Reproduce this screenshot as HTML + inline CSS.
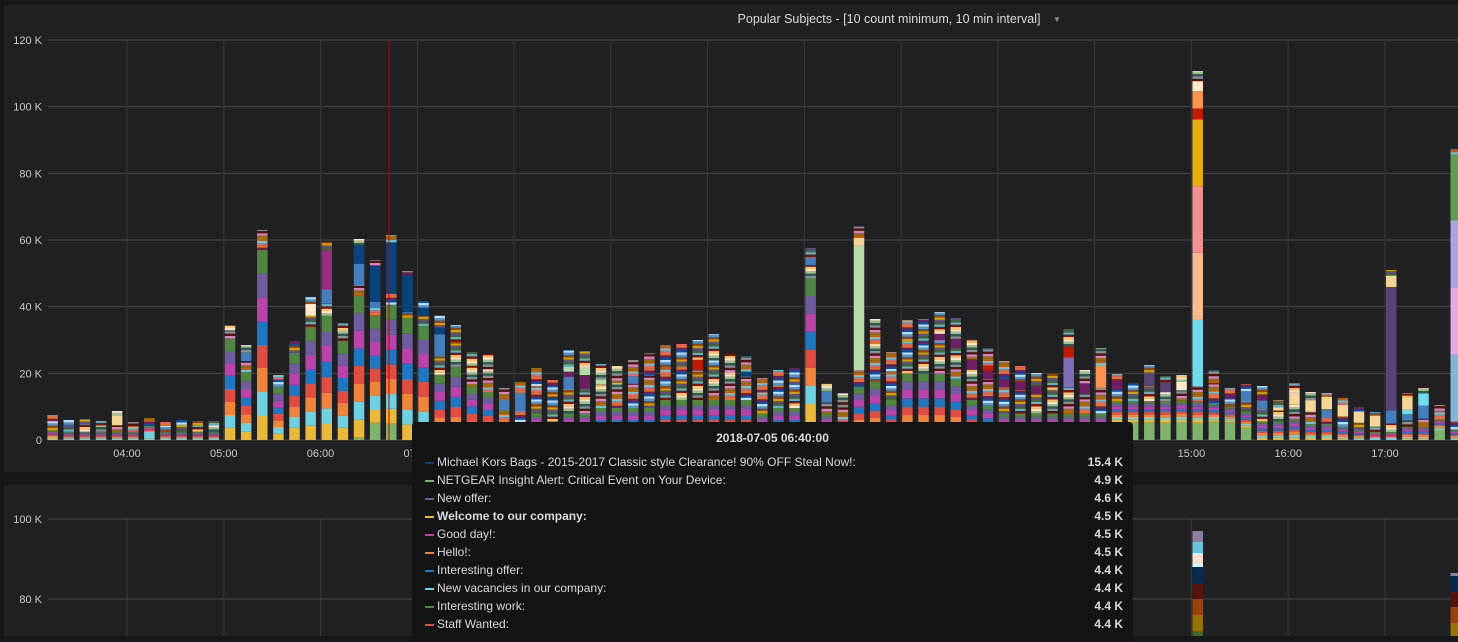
<!DOCTYPE html>
<html><head><meta charset="utf-8"><title>Popular Subjects</title>
<style>
html,body{margin:0;padding:0;background:#161719;width:1458px;height:636px;overflow:hidden;font-family:"Liberation Sans",sans-serif;}
#tooltip{position:absolute;left:412px;top:422px;width:721px;height:220px;background:#141414;border-radius:4px;color:#d8d9da;font-size:12px;}
#tooltip .tt-title{position:absolute;left:0;right:0;top:9px;text-align:center;font-weight:bold;}
.row{position:absolute;left:12px;right:10px;height:18px;}
.row .sw{position:absolute;left:1px;top:7px;width:9px;height:2px;}
.row .lb{position:absolute;left:13px;top:0;}
.row .vl{position:absolute;right:0;top:0;font-weight:bold;}
</style></head>
<body>
<svg id="chart" width="1458" height="636" style="position:absolute;left:0;top:0">
 <rect x="4" y="5" width="1460" height="467" fill="#212124"/>
 <rect x="4" y="485" width="1460" height="160" fill="#212124"/>
 <text x="889" y="23" fill="#d8d9da" font-size="12.5" text-anchor="middle">Popular Subjects - [10 count minimum, 10 min interval]</text>
 <text x="1057" y="22" fill="#8e8e8e" font-size="8" text-anchor="middle">▼</text>
 <g id="grid"></g><g id="bars"></g><g id="lower"></g><g id="axes"></g>
 <line x1="389" y1="40" x2="389" y2="440" stroke="#b00" stroke-width="1"/>
</svg>
<div id="tooltip">
 <div class="tt-title">2018-07-05 06:40:00</div>
</div>
<script>
const categories=["03:10","03:20","03:30","03:40","03:50","04:00","04:10","04:20","04:30","04:40","04:50","05:00","05:10","05:20","05:30","05:40","05:50","06:00","06:10","06:20","06:30","06:40","06:50","07:00","07:10","07:20","07:30","07:40","07:50","08:00","08:10","08:20","08:30","08:40","08:50","09:00","09:10","09:20","09:30","09:40","09:50","10:00","10:10","10:20","10:30","10:40","10:50","11:00","11:10","11:20","11:30","11:40","11:50","12:00","12:10","12:20","12:30","12:40","12:50","13:00","13:10","13:20","13:30","13:40","13:50","14:00","14:10","14:20","14:30","14:40","14:50","15:00","15:10","15:20","15:30","15:40","15:50","16:00","16:10","16:20","16:30","16:40","16:50","17:00","17:10","17:20","17:30","17:40"];
const totals=[7.5,6,6.3,5.7,8.7,5.4,6.6,5.4,6,5.7,5.7,34.5,28.5,63,19.5,29.7,43,59.4,35,60.3,54,61.5,50.7,41.7,37.5,34.5,26.4,25.8,15.6,17.4,21.6,18,27,26.7,22.8,22.2,24,26,28.5,28.8,30,31.8,25.8,25.2,18.6,21,21.6,57.6,17,14,64,36.3,26.4,36,36.3,38.4,36.6,30.3,27.6,23.7,22.2,20.1,19.8,33.3,21,27.6,19.8,17.1,22.5,19.2,19.5,110.7,21,15.6,16.8,16.2,12,17.1,14.4,14.1,12.6,9.9,8.4,51,14.1,15.6,10.5,87.3];
const netgear=[0,0,0,0,0,0,0,0,0,0,0,0,0,0,0,0,0,0,0,.8,5.2,4.9,0,0,0,0,0,0,0,0,0,0,0,0,0,0,0,0,0,0,0,0,0,0,0,0,0,5.4,0,0,0,0,0,0,0,0,0,0,0,0,0,0,0,0,0,0,5.3,5.3,5.3,5.2,5.4,5.2,5.5,5.3,3.7,0,0,0,0,0,0,0,0,0,0,0,3,0];
const welcome=[.5,.4,.4,.4,.4,.4,.4,.4,.4,.4,.4,3.8,2.5,7.2,2,3.8,4.3,4.8,3.8,5.4,4.1,4.5,4.7,4.5,2.2,2,1.8,1.8,.5,.5,1,.7,1,1,1.2,1.2,1.2,1.2,1.5,1.5,1.5,1.5,1.5,1.5,1,1.2,1.2,5.4,1,.7,2,2.2,1.5,2.5,2.5,2.5,2.3,1.5,1.3,1,1,1,1,1,1,1,.8,.8,.8,.8,.8,.8,.7,.6,.6,.7,.7,.8,.6,.6,.5,.4,.3,.3,.5,.5,.4,.4];
const vacancies=[.4,.3,.3,.3,.3,.3,2,.3,.3,.3,.3,3.7,2.7,7.2,1.9,3.2,4.2,4.7,3.5,5.3,4,4.4,4.5,4,2.2,2,1.8,1.8,.5,.5,1,.7,1,1,1.2,1.2,1.2,1.2,1.5,1.5,1.5,1.5,1.5,1.5,1,1.2,1.2,5.4,1,.7,2,2.2,1.5,2.5,2.5,2.5,2.3,1.5,1.3,1,1,1,1,1,1,1,.8,.8,.8,.8,.8,.8,.7,.6,.6,.7,.7,.8,.6,.6,.5,.4,.3,.3,.5,.5,.4,.4];
const hello=[.4,.3,.3,.3,.3,.3,.3,.3,.3,.3,.3,4,2.5,7.2,2,3,4.3,4.7,3.8,5.3,4.2,4.5,4.6,4.5,2.4,3,2,1.8,.5,.5,1,.7,1,1,1.2,1.2,1.2,1.2,1.5,1.5,1.5,1.5,1.5,1.5,1,1.2,1.2,5.5,1,.7,2,2.2,1.5,2.5,2.5,2.5,2.3,1.5,1.3,1,1,1,1,1,1,1,.8,.8,.8,.8,.8,.8,.7,.6,.6,.7,.7,.8,.6,.6,.5,.4,.3,.3,.5,.5,.4,.4];
const staff=[.4,.3,.3,.3,.3,.3,.3,.3,.3,.3,.3,3.8,2.5,6.9,2,3.3,4.2,4.8,3.7,5.5,4,4.4,4.5,4.5,2.4,3,2.2,1.8,.5,.5,1,.7,1,1,1.2,1.2,1.2,1.2,1.5,1.5,1.5,1.5,1.5,1.5,1,1.2,1.2,5.4,1,.7,2,2.2,1.5,2.5,2.5,2.5,2.3,1.5,1.3,1,1,1,1,1,1,1,.8,.8,.8,.8,.8,.8,.7,.6,.6,.7,.7,.8,.6,.6,.5,.4,.3,.3,.5,.5,.4,.4];
const interesting=[.3,.3,.3,.3,.3,.3,.3,.3,.3,.3,.3,4,2.6,7,2,3.3,4.3,4.5,3.8,5.2,4,4.4,4.7,4.3,2.6,3,2.3,1.8,.5,.5,1,.7,1,1,1.2,1.2,1.2,1.2,1.5,1.5,1.5,1.5,1.5,1.5,1,1.2,1.2,5.4,1,.7,2,2.2,1.5,2.5,2.5,2.5,2.3,1.5,1.3,1,1,1,1,1,1,1,.8,.8,.8,.8,.8,.8,.7,.6,.6,.7,.7,.8,.6,.6,.5,.4,.3,.3,.5,.5,.4,.4];
const goodDay=[.3,.3,.3,.3,.3,.3,.3,.3,.3,.3,.3,3.7,2.5,7.2,1.9,3.2,4.2,4.7,3.7,5.3,4,4.5,4.5,4,2.6,3,2,1.8,.5,.5,1,.7,1,1,1.2,1.2,1.2,1.2,1.5,1.5,1.5,1.5,1.5,1.5,1,1.2,1.2,5.4,1,.7,2,2.2,1.5,2.5,2.5,2.5,2.3,1.5,1.3,1,1,1,1,1,1,1,.8,.8,.8,.8,.8,.8,.7,.6,.6,.7,.7,.8,.6,.6,.5,.4,.3,.3,.5,.5,.4,.4];
const newOffer=[.3,.3,.3,.3,.3,.3,.3,.3,.3,.3,.3,3.7,2.5,7.2,2.2,3.1,4.3,4.5,3.7,5.4,4,4.6,4.5,4.2,2.6,3,2,1.8,.5,.5,1,.7,1,1,1.2,1.2,1.2,1.2,1.5,1.5,1.5,1.5,1.5,1.5,1,1.2,1.2,5.3,1,.7,2,2.2,1.5,2.5,2.5,2.5,2.3,1.5,1.3,1,1,1,1,1,1,1,.8,.8,.8,.8,.8,.8,.7,.6,.6,.7,.7,.8,.6,.6,.5,.4,.3,.3,.5,.5,.4,.4];
const work=[.3,.3,.3,.3,.3,.3,.3,.3,.3,.3,.3,3.8,2.6,7.1,2,3.3,4.2,4.6,3.8,5.3,4,4.4,4.7,4.2,2.6,3,2,1.8,.5,.5,1,.7,1,1,1.2,1.2,1.2,1.2,1.5,1.5,1.5,1.5,1.5,1.5,1,1.2,1.2,5.3,1,.7,2,2.2,1.5,2.5,2.5,2.5,2.3,1.5,1.3,1,1,1,1,1,1,1,.8,.8,.8,.8,.8,.8,.7,.6,.6,.7,.7,.8,.6,.6,.5,.4,.3,.3,.5,.5,.4,.4];
// sparse feature series: bar index -> value (K)
const offerBlue={12:2.6,17:4.2,19:6.5,20:1.5,24:6.5,28:3.5,29:5.5,32:3.5,36:2.3,47:2.5,48:3.5,74:3,75:2.5,79:2.7,83:4,84:1.5,85:3.9};
const darkMagenta={32:1.5,33:4,55:2,56:2.7,57:3.2,58:2.5,59:2.5,60:2.5,61:2.5,64:3,66:2.5,73:1.5,75:1.8};
const plum={17:11.8};
const mint={32:1.5,33:2.2,34:1.5,50:37.4};
const violet={63:9};
const michael={19:5.5,20:11,21:15.4,22:11.3,23:2.5,24:2,43:1.5};
const dkPurple={68:3.5,69:3,83:37};
const sky={71:20,84:1.4,85:3.7};
const peach={71:20};
const rose={71:20};
const amber={71:20};
const crimson={40:3.2,58:1.5,63:3.3,71:3.3};
const tangerine={65:6.8,71:5.2};
const steel={87:20};
const orchid={87:20.2};
const lavender={87:20};
const fern={87:19.8};
const cream={4:3,50:2.3,76:1,77:3.4,78:3.5,79:3.6,80:3.4,81:3.4,82:3.3,83:3.4,84:3.5};
const ivory={16:3.5,70:2.5,71:3};
const yTicks=[0,20,40,60,80,100,120];
const yTickLabels=["0","20 K","40 K","60 K","80 K","100 K","120 K"];
const xTickLabels=["04:00","05:00","06:00","07:00","08:00","09:00","10:00","11:00","12:00","13:00","14:00","15:00","16:00","17:00"];
// lower panel (same time axis), only the two tallest bars reach the visible area
const lowerBarTimes=["15:00","17:40"];
const lowerGreen=[72,70];
const lowerOlive=[4,4];
const lowerOrange=[4,4];
const lowerDarkRed=[4,3.75];
const lowerNavy=[4,4];
const lowerPale=[0.75,0];
const lowerIvory=[2.75,0];
const lowerSky=[2.75,0];
const lowerTop=[2.75,0.75];
const lowerTicks=[80,100];
const lowerTickLabels=["80 K","100 K"];
const tooltipLabels=["Michael Kors Bags - 2015-2017 Classic style Clearance! 90% OFF Steal Now!:","NETGEAR Insight Alert: Critical Event on Your Device:","New offer:","Welcome to our company:","Good day!:","Hello!:","Interesting offer:","New vacancies in our company:","Interesting work:","Staff Wanted:"];
const tooltipValues=["15.4 K","4.9 K","4.6 K","4.5 K","4.5 K","4.5 K","4.4 K","4.4 K","4.4 K","4.4 K"];
const tooltipColors=["#0A437C","#7EB26D","#705DA0","#EAB839","#BA43A9","#EF843C","#1F78C1","#6ED0E0","#508642","#E24D42"];

const NS="http://www.w3.org/2000/svg";
function mk(tag,attrs,parent){const e=document.createElementNS(NS,tag);for(const k in attrs)e.setAttribute(k,attrs[k]);parent.appendChild(e);return e;}
function mins(t){const p=t.split(":");return +p[0]*60+ +p[1];}
function xOf(t){return 128+(mins(t)-240)*1.6128;}
function yOf(v){return 440-v*400/120;}
function yLow(v){return 919-v*4;}
const BW=10.5;
const grid=document.getElementById('grid'),bars=document.getElementById('bars'),axes=document.getElementById('axes'),lower=document.getElementById('lower');

yTicks.forEach((v,i)=>{
 const l=mk('line',{x1:48,x2:1458,y1:yOf(v),y2:yOf(v),stroke:'#464649','stroke-width':1},grid);
 
 
 const t=mk('text',{x:42,y:yOf(v)+4,fill:'#c8c9ca','font-size':11,'text-anchor':'end'},axes);
 t.textContent=yTickLabels[i];
 
 
});
xTickLabels.forEach(s=>{
 const x=xOf(s)-1;
 const l=mk('line',{x1:x,x2:x,y1:40,y2:440,stroke:'#3a3a3d','stroke-width':1},grid);
 
 
 const l2=mk('line',{x1:x,x2:x,y1:519,y2:636,stroke:'#3a3a3d','stroke-width':1},grid);
 
 
 const t=mk('text',{x:x,y:457,fill:'#c8c9ca','font-size':11,'text-anchor':'middle'},axes);
 t.textContent=s;
 
 
});
lowerTicks.forEach((v,i)=>{
 const l=mk('line',{x1:48,x2:1458,y1:yLow(v),y2:yLow(v),stroke:'#464649','stroke-width':1},grid);
 
 
 const t=mk('text',{x:42,y:yLow(v)+4,fill:'#c8c9ca','font-size':11,'text-anchor':'end'},axes);
 t.textContent=lowerTickLabels[i];
 
 
});

const mainSeries=[[netgear,'#7EB26D','netgear'],[welcome,'#EAB839','welcome'],[vacancies,'#6ED0E0','vacancies'],[hello,'#EF843C','hello'],[staff,'#E24D42','staff-wanted'],[interesting,'#1F78C1','interesting-offer'],[goodDay,'#BA43A9','good-day'],[newOffer,'#705DA0','new-offer'],[work,'#508642','interesting-work']];
const featureSeries=[[offerBlue,'#447EBC','offer-blue'],[darkMagenta,'#6D1F62','dark-magenta'],[plum,'#962D82','plum'],[mint,'#B7DBAB','mint'],[violet,'#806EB7','violet'],[michael,'#0A437C','michael-kors'],[dkPurple,'#584477','dark-purple'],[sky,'#70DBED','sky'],[peach,'#F9BA8F','peach'],[rose,'#F29191','rose'],[amber,'#E5AC0E','amber'],[crimson,'#BF1B00','crimson'],[tangerine,'#F9934E','tangerine'],[steel,'#82B5D8','steel'],[orchid,'#E5A8E2','orchid'],[lavender,'#AEA2E0','lavender'],[fern,'#629E51','fern'],[cream,'#F4D598','cream'],[ivory,'#FCEACA','ivory']];
const stripePal=["#CCA300","#C15C17","#890F02","#6D1F62","#2F575E","#99440A","#967302","#64B0C8","#E0752D","#9AC48A","#5195CE","#D683CE","#3F6833","#EA6460","#F9E2D2","#BADFF4","#58140C","#614D93","#65C5DB","#F2C96D","#0A50A1","#8F8F8F"];

function seg(x,v0,v1,color,name){
 if(v1<=v0)return;
 const y1=yOf(v1),y0=yOf(v0);
 const r=mk('rect',{x:x,y:y1,width:BW,height:Math.max(0.6,y0-y1),fill:color},bars);
 
 
}
function stripes(x,v0,amt,bi,off){
 let k=0,v=v0;
 while(amt>0.01){const h=Math.min(0.7,amt);seg(x,v,v+h,stripePal[(bi*7+k*5+off)%stripePal.length],'other-subject-segment');v+=h;amt-=h;k++;}
 return v;
}
categories.forEach((c,i)=>{
 const x=xOf(c);
 let acc=0;
 mainSeries.forEach(s=>{const v=s[0][i]||0;seg(x,acc,acc+v,s[1],s[2]+'-segment');acc+=v;});
 let feat=0;featureSeries.forEach(s=>{feat+=s[0][i]||0;});
 const other=Math.max(0,totals[i]-acc-feat);
 acc=stripes(x,acc,other*0.6,i,0);
 featureSeries.forEach(s=>{const v=s[0][i]||0;seg(x,acc,acc+v,s[1],s[2]+'-segment');acc+=v;});
 stripes(x,acc,other*0.4,i,3);
});

// lower panel
const lowerSeries=[[lowerGreen,'#3F6833'],[lowerOlive,'#967302'],[lowerOrange,'#99440A'],[lowerDarkRed,'#58140C'],[lowerNavy,'#052B51'],[lowerPale,'#CFFAFF'],[lowerIvory,'#F9E2D2'],[lowerSky,'#65C5DB'],[lowerTop,'#8F7F9F']];
lowerBarTimes.forEach((t,i)=>{
 const x=xOf(t);let acc=0;
 lowerSeries.forEach(s=>{
  const v=s[0][i];if(v<=0)return;
  const y1=Math.max(485,yLow(acc+v)),y0=Math.min(636,yLow(acc));
  if(y0>y1){const r=mk('rect',{x:x,y:y1,width:BW,height:y0-y1,fill:s[1]},lower);
   
   }
  acc+=v;
 });
});

// tooltip rows
const tt=document.getElementById('tooltip');
tooltipLabels.forEach((lb,i)=>{
 const row=document.createElement('div');row.className='row';row.style.top=(33+i*18)+'px';
 
 
 const sw=document.createElement('div');sw.className='sw';sw.style.background=tooltipColors[i];
 
 
 const l=document.createElement('div');l.className='lb';l.textContent=lb;if(i===3)l.style.fontWeight='bold';
 
 
 const v=document.createElement('div');v.className='vl';v.textContent=tooltipValues[i];
 
 
 row.appendChild(sw);row.appendChild(l);row.appendChild(v);tt.appendChild(row);
});
</script>
</body></html>
